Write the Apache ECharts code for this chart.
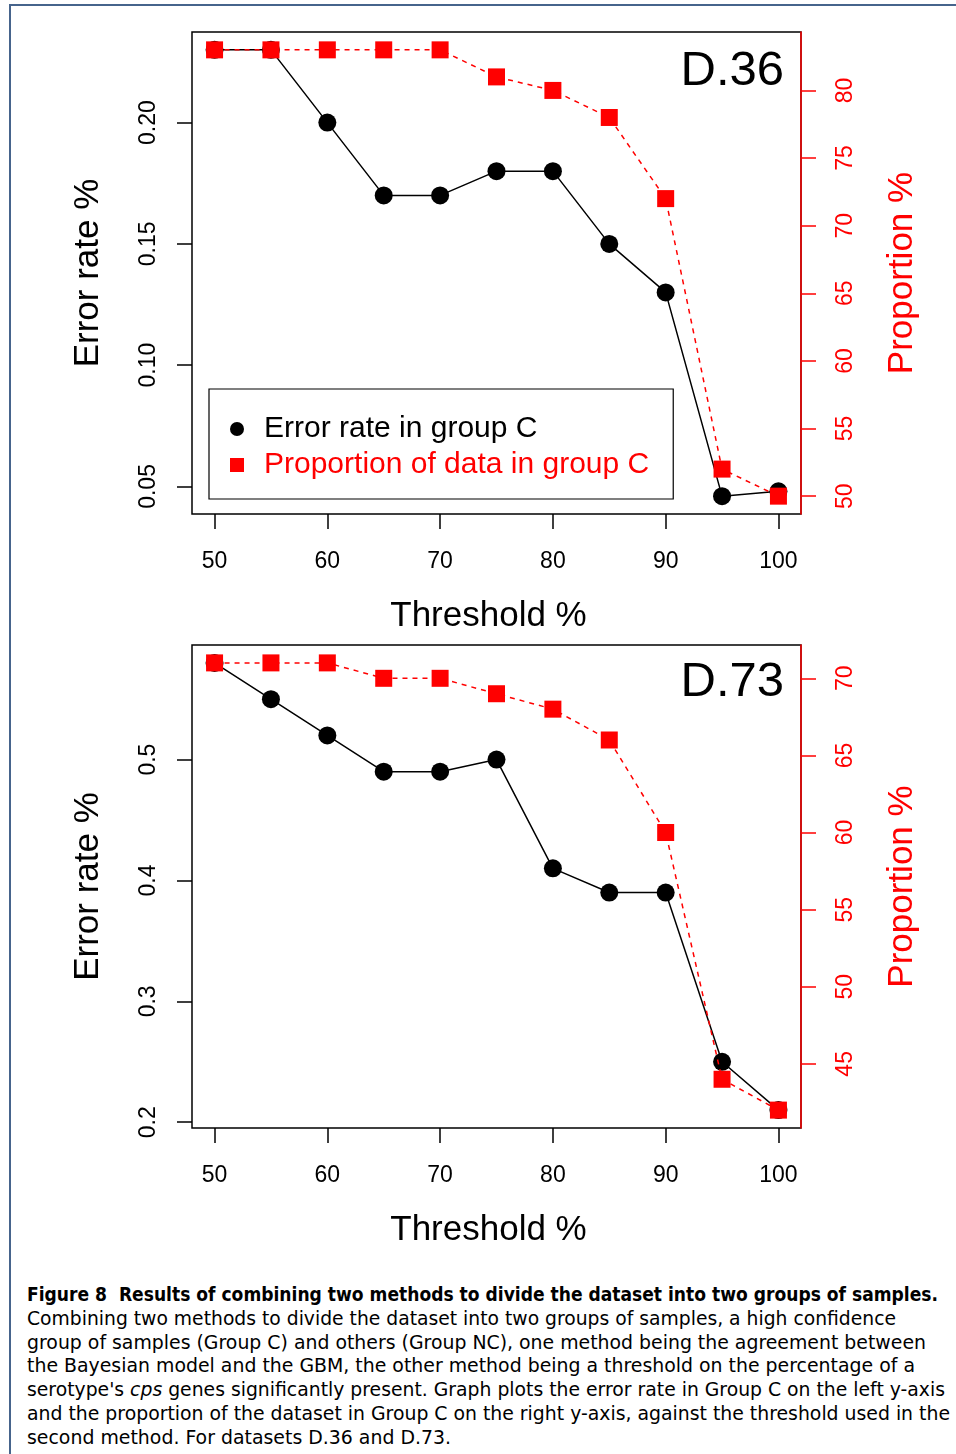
<!DOCTYPE html>
<html>
<head>
<meta charset="utf-8">
<script src="https://cdn.jsdelivr.net/npm/echarts@6/dist/echarts.min.js"></script>
<style>
  html, body { margin: 0; padding: 0; background: #fff; }
  body { width: 956px; height: 1454px; position: relative; overflow: hidden; }
  #frame { position: absolute; left: 9px; top: 4px; width: 960px; height: 1460px;
           border-left: 2px solid #46648c; border-top: 2px solid #46648c; }
  #chart { position: absolute; left: 0; top: 0; width: 956px; height: 1270px; }
  #caption { position: absolute; left: 27px; top: 1283px; font-family: 'DejaVu Sans', sans-serif;
             font-size: 19px; line-height: 23.8px; color: #000; white-space: nowrap; }
  #caption div { transform-origin: 0 50%; display: block; width: max-content; }
</style>
</head>
<body>
<div id="frame"></div>
<div id="chart"></div>
<div id="caption">
  <div data-w="911"><b>Figure 8&nbsp; Results of combining two methods to divide the dataset into two groups of samples.</b></div>
  <div data-w="869">Combining two methods to divide the dataset into two groups of samples, a high confidence</div>
  <div data-w="899">group of samples (Group C) and others (Group NC), one method being the agreement between</div>
  <div data-w="888">the Bayesian model and the GBM, the other method being a threshold on the percentage of a</div>
  <div data-w="918">serotype's <i>cps</i> genes significantly present. Graph plots the error rate in Group C on the left y-axis</div>
  <div data-w="923">and the proportion of the dataset in Group C on the right y-axis, against the threshold used in the</div>
  <div data-w="424">second method. For datasets D.36 and D.73.</div>
</div>
<script>
// thresholds on the x axis (both panels)
const thresholds = [50, 55, 60, 65, 70, 75, 80, 85, 90, 95, 100];
const xTicks = [50, 60, 70, 80, 90, 100];

// D.36
const errorD36 = [0.23, 0.23, 0.20, 0.17, 0.17, 0.18, 0.18, 0.15, 0.13, 0.046, 0.048];
const propD36 = [83, 83, 83, 83, 83, 81, 80, 78, 72, 52, 50];
const errTicksD36 = [0.05, 0.10, 0.15, 0.20];
const propTicksD36 = [50, 55, 60, 65, 70, 75, 80];

// D.73
const errorD73 = [0.58, 0.55, 0.52, 0.49, 0.49, 0.50, 0.41, 0.39, 0.39, 0.25, 0.21];
const propD73 = [71, 71, 71, 70, 70, 69, 68, 66, 60, 44, 42];
const errTicksD73 = [0.2, 0.3, 0.4, 0.5];
const propTicksD73 = [45, 50, 55, 60, 65, 70];

const FONT = 'Liberation Sans, Arial, Helvetica, sans-serif';
const RED = '#ff0000';

// R style axis range: data range padded by 4% on each side
function rRange(arr) {
  const lo = Math.min(...arr), hi = Math.max(...arr), d = (hi - lo) * 0.04;
  return [lo - d, hi + d];
}
const pairs = (ys) => thresholds.map((t, i) => [t, ys[i]]);

const xr = rRange(thresholds);

function xAxisFor(gridIndex) {
  return {
    type: 'value', gridIndex, min: xr[0], max: xr[1],
    axisLine: { show: false, onZero: false },
    axisTick: { show: true, length: 15, customValues: xTicks, lineStyle: { color: '#000', width: 1.5 } },
    axisLabel: { customValues: xTicks, fontSize: 23, color: '#000', margin: 36, fontFamily: FONT },
    splitLine: { show: false },
    name: 'Threshold %', nameLocation: 'middle', nameGap: 85,
    nameTextStyle: { fontSize: 35, color: '#000', fontFamily: FONT, padding: [0, 16, 0, 0] }
  };
}

function errAxisFor(gridIndex, data, ticks, digits) {
  const r = rRange(data);
  return {
    type: 'value', gridIndex, position: 'left', min: r[0], max: r[1],
    axisLine: { show: false, onZero: false },
    axisTick: { show: true, length: 15, customValues: ticks, lineStyle: { color: '#000', width: 1.5 } },
    axisLabel: { customValues: ticks, rotate: 90, fontSize: 23, color: '#000', margin: 32, fontFamily: FONT,
                 formatter: (v) => v.toFixed(digits) },
    splitLine: { show: false },
    name: 'Error rate %', nameLocation: 'middle', nameGap: 86, nameRotate: 90,
    nameTextStyle: { fontSize: 35, color: '#000', fontFamily: FONT }
  };
}

function propAxisFor(gridIndex, data, ticks) {
  const r = rRange(data);
  return {
    type: 'value', gridIndex, position: 'right', min: r[0], max: r[1],
    axisLine: { show: true, onZero: false, lineStyle: { color: RED, width: 1.5 } },
    axisTick: { show: true, length: 15, customValues: ticks, lineStyle: { color: RED, width: 1.5 } },
    axisLabel: { customValues: ticks, rotate: 90, fontSize: 23, color: RED, margin: 33, fontFamily: FONT },
    splitLine: { show: false },
    name: 'Proportion %', nameLocation: 'middle', nameGap: 84, nameRotate: 90,
    nameTextStyle: { fontSize: 35, color: RED, fontFamily: FONT }
  };
}

function errSeries(idx, data) {
  return {
    name: 'Error rate in group C', type: 'line', xAxisIndex: idx, yAxisIndex: idx * 2,
    data: pairs(data), symbol: 'circle', symbolSize: 18,
    itemStyle: { color: '#000' }, lineStyle: { color: '#000', width: 1.5 }, z: 2
  };
}

function propSeries(idx, data) {
  return {
    name: 'Proportion of data in group C', type: 'line', xAxisIndex: idx, yAxisIndex: idx * 2 + 1,
    data: pairs(data), symbol: 'rect', symbolSize: 17,
    itemStyle: { color: RED }, lineStyle: { color: RED, width: 1.5, type: [5, 5] }, z: 3
  };
}

const chart = echarts.init(document.getElementById('chart'), null, { renderer: 'canvas' });

chart.setOption({
  animation: false,
  backgroundColor: 'transparent',
  textStyle: { fontFamily: FONT },
  title: [
    { text: 'D.36', right: 172, top: 47, padding: 0,
      textStyle: { fontSize: 49, fontWeight: 'normal', color: '#000', fontFamily: FONT } },
    { text: 'D.73', right: 172, top: 658, padding: 0,
      textStyle: { fontSize: 49, fontWeight: 'normal', color: '#000', fontFamily: FONT } }
  ],
  grid: [
    { left: 192, top: 32, width: 609, height: 482, show: true, borderColor: '#000', borderWidth: 1.5,
      containLabel: false, outerBoundsMode: 'none' },
    { left: 192, top: 645, width: 609, height: 483, show: true, borderColor: '#000', borderWidth: 1.5,
      containLabel: false, outerBoundsMode: 'none' }
  ],
  legend: {
    left: 209, top: 389, orient: 'vertical',
    padding: [25, 24, 19, 21], itemGap: 6, itemWidth: 44, itemHeight: 14,
    borderColor: '#000', borderWidth: 1.2, backgroundColor: '#fff',
    textStyle: { fontSize: 30, color: '#000', fontFamily: FONT },
    selectedMode: false,
    data: [
      { name: 'Error rate in group C', icon: 'circle' },
      { name: 'Proportion of data in group C', icon: 'path://M0,0L10,0L10,10L0,10Z',
        textStyle: { color: RED } }
    ]
  },
  xAxis: [xAxisFor(0), xAxisFor(1)],
  yAxis: [
    errAxisFor(0, errorD36, errTicksD36, 2),
    propAxisFor(0, propD36, propTicksD36),
    errAxisFor(1, errorD73, errTicksD73, 1),
    propAxisFor(1, propD73, propTicksD73)
  ],
  series: [
    errSeries(0, errorD36),
    propSeries(0, propD36),
    errSeries(1, errorD73),
    propSeries(1, propD73)
  ]
});

// squeeze each caption line to the width it has in the figure
document.querySelectorAll('#caption div').forEach((el) => {
  const w = el.getBoundingClientRect().width;
  const target = +el.dataset.w;
  if (w > 0) el.style.transform = 'scaleX(' + (target / w).toFixed(4) + ')';
});
</script>
</body>
</html>
